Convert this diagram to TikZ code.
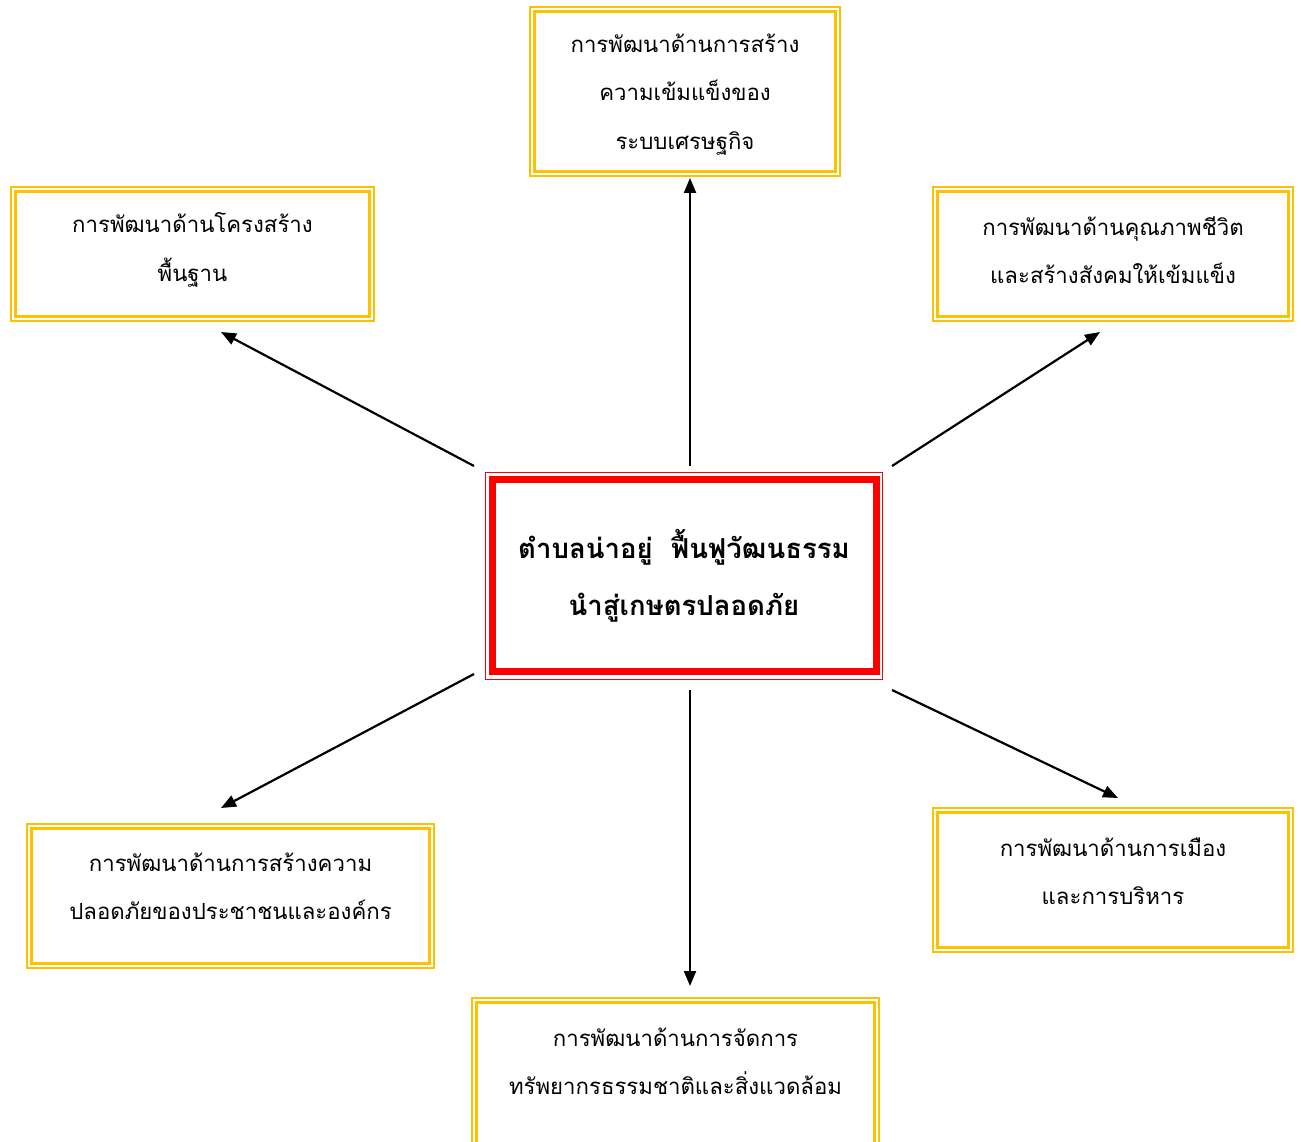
\documentclass[tikz,border=0pt]{standalone}
\usepackage{fontspec}
\newfontfamily\thaifont[Script=Thai]{Loma}
\usetikzlibrary{arrows.meta}
\definecolor{gold}{HTML}{FFC000}
\definecolor{boxred}{HTML}{FF0000}
\tikzset{
  goldbox/.style={draw=gold, line width=2.5pt, double=white, double distance=2pt, inner sep=0pt},
  lbl/.style={align=center, font=\thaifont\fontsize{22.2}{48.5}\selectfont, inner sep=0pt},
  mainlbl/.style={align=center, font=\thaifont\bfseries\fontsize{27.5}{57}\selectfont, inner sep=0pt},
  conn/.style={line width=2.2pt, -{Triangle[length=15pt,width=12pt]}}
}
\begin{document}
\begin{tikzpicture}[x=1pt,y=-1pt]
\useasboundingbox (0,0) rectangle (1301,1142);
\clip (0,0) rectangle (1301,1142);
% centre box
\node[draw=boxred, line width=7pt, minimum width=383.5pt, minimum height=191.5pt, inner sep=0pt] (main) at (684.25,575.25) {};
\draw[boxred, line width=1.5pt] (485.5,472.5) rectangle (882.5,679.5);
\node[mainlbl] (maint) at (684,575.5) {ตำบลน่าอยู่\ \ ฟื้นฟูวัฒนธรรม\\นำสู่เกษตรปลอดภัย};
% surrounding boxes
\node[goldbox, minimum width=305.2pt, minimum height=164.2pt] (top) at (685,91.5) {};
\node[lbl] (topt) at (685,94.5) {การพัฒนาด้านการสร้าง\\ความเข้มแข็งของ\\ระบบเศรษฐกิจ};
\node[goldbox, minimum width=358.2pt, minimum height=129.2pt] (ul) at (192.5,254) {};
\node[lbl] (ult) at (192.5,250) {การพัฒนาด้านโครงสร้าง\\พื้นฐาน};
\node[goldbox, minimum width=355.2pt, minimum height=129.2pt] (ur) at (1113,254) {};
\node[lbl] (urt) at (1113,250) {การพัฒนาด้านคุณภาพชีวิต\\และสร้างสังคมให้เข้มแข็ง};
\node[goldbox, minimum width=402.2pt, minimum height=139.2pt] (ll) at (230.5,896) {};
\node[lbl] (llt) at (230.5,886.5) {การพัฒนาด้านการสร้างความ\\ปลอดภัยของประชาชนและองค์กร};
\node[goldbox, minimum width=355.2pt, minimum height=139.2pt] (lr) at (1113,880) {};
\node[lbl] (lrt) at (1113,871) {การพัฒนาด้านการเมือง\\และการบริหาร};
\node[goldbox, minimum width=402.2pt, minimum height=160pt] (bot) at (675.5,1080.4) {};
\node[lbl] (bott) at (675.5,1061.5) {การพัฒนาด้านการจัดการ\\ทรัพยากรธรรมชาติและสิ่งแวดล้อม};
% connector ends
\coordinate (sUp) at (690,466); \coordinate (eUp) at (690,178);
\coordinate (sUL) at (474,466); \coordinate (eUL) at (221,332);
\coordinate (sUR) at (892,466); \coordinate (eUR) at (1100,332);
\coordinate (sLL) at (474,674); \coordinate (eLL) at (221,808);
\coordinate (sDn) at (690,690); \coordinate (eDn) at (690,986);
\coordinate (sLR) at (892,690); \coordinate (eLR) at (1118,798);
\draw[conn] (sUp) -- (eUp);
\draw[conn] (sUL) -- (eUL);
\draw[conn] (sUR) -- (eUR);
\draw[conn] (sLL) -- (eLL);
\draw[conn] (sDn) -- (eDn);
\draw[conn] (sLR) -- (eLR);
\end{tikzpicture}
\end{document}
